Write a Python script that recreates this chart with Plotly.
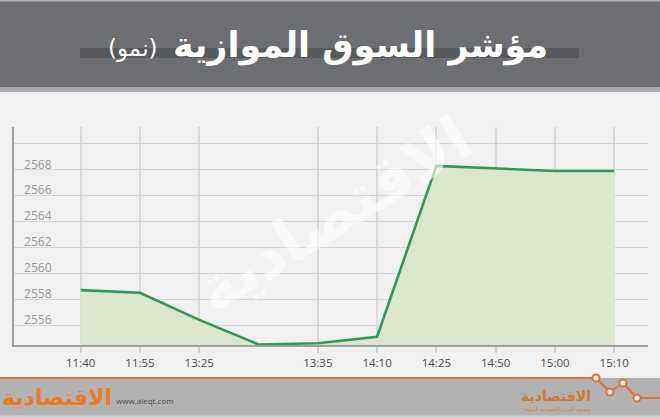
import plotly.graph_objects as go

# ---- data ----
times = ["11:40", "11:55", "13:25", "", "13:35", "14:10", "14:25", "14:50", "15:00", "15:10"]
values = [2558.7, 2558.5, 2556.4, 2554.5, 2554.6, 2555.1, 2568.3, 2568.1, 2567.9, 2567.9]
y_ticks = [2556, 2558, 2560, 2562, 2564, 2566, 2568, 2570]
y_tick_labels = ["2556", "2558", "2560", "2562", "2564", "2566", "2568", ""]
title_main = "مؤشر السوق الموازية"
title_sub = "(نمو)"
brand = "الاقتصادية"

W, H = 660, 418
L, R, T, B = 14, 12, 127, 73
PW, PH = W - L - R, H - T - B


def px(x):
    return (x - L) / PW


def py(y):
    return (H - B - y) / PH


xs = list(range(len(times)))
tick_idx = [i for i, t in enumerate(times) if t]

fig = go.Figure()
fig.add_trace(go.Scatter(
    x=xs, y=values, mode="lines",
    line=dict(color="#2f9a52", width=2.6),
    fill="tozeroy", fillcolor="#dbe6cc",
    hoverinfo="skip",
))

shapes = []
# title band
shapes.append(dict(type="rect", xref="paper", yref="paper", x0=px(0), x1=px(W), y0=py(0), y1=py(87),
                   fillcolor="#6d6e71", line=dict(width=0), layer="above"))
shapes.append(dict(type="rect", xref="paper", yref="paper", x0=px(0), x1=px(W), y0=py(87), y1=py(92),
                   fillcolor="#abacae", line=dict(width=0), layer="above"))
shapes.append(dict(type="rect", xref="paper", yref="paper", x0=px(0), x1=px(W), y0=py(0), y1=py(1.5),
                   fillcolor="#b9b9bb", line=dict(width=0), layer="above"))
# dark bar behind title
shapes.append(dict(type="rect", xref="paper", yref="paper", x0=px(80), x1=px(579), y0=py(48), y1=py(58),
                   fillcolor="#58595c", line=dict(width=0), layer="above"))
# bottom band
shapes.append(dict(type="rect", xref="paper", yref="paper", x0=px(0), x1=px(W), y0=py(378), y1=py(418),
                   fillcolor="#b2b2b2", line=dict(width=0), layer="above"))
shapes.append(dict(type="rect", xref="paper", yref="paper", x0=px(0), x1=px(W), y0=py(415.5), y1=py(418),
                   fillcolor="#cfcfcf", line=dict(width=0), layer="above"))
# orange line with zigzag
pts = [(0, 378), (596, 378), (610, 392), (623, 383), (637, 398), (660, 398)]
path = "M " + " L ".join(f"{px(a):.5f},{py(b):.5f}" for a, b in pts)
shapes.append(dict(type="path", xref="paper", yref="paper", path=path,
                   line=dict(color="#dd7136", width=2), layer="above"))
for a, b in pts[1:5]:
    r = 3.6
    shapes.append(dict(type="circle", xref="paper", yref="paper",
                       x0=px(a - r), x1=px(a + r), y0=py(b - r), y1=py(b + r),
                       fillcolor="#eeeeee", line=dict(color="#dd7136", width=2), layer="above"))

annotations = [
    # watermark
    dict(xref="paper", yref="paper", x=px(333), y=py(214), text=brand, showarrow=False,
         textangle=-32, font=dict(family="DejaVu Sans", size=62, color="rgba(255,255,255,0.6)", weight="bold"),
         xanchor="center", yanchor="middle"),
    # titles
    dict(xref="paper", yref="paper", x=px(550), y=py(46), text=title_main, showarrow=False,
         xanchor="right", yanchor="middle",
         font=dict(family="DejaVu Sans", size=35, color="white", weight="bold")),
    dict(xref="paper", yref="paper", x=px(160), y=py(49), text=title_sub, showarrow=False,
         xanchor="right", yanchor="middle",
         font=dict(family="DejaVu Sans", size=23, color="white")),
    # bottom-left logo
    dict(xref="paper", yref="paper", x=px(114), y=py(397), text=brand, showarrow=False,
         xanchor="right", yanchor="middle",
         font=dict(family="DejaVu Sans", size=22, color="#f07a22", weight="bold")),
    dict(xref="paper", yref="paper", x=px(114), y=py(400), text="www.aleqt.com", showarrow=False,
         xanchor="left", yanchor="middle",
         font=dict(family="Open Sans", size=8, color="#4a4a4a")),
    # bottom-right logo
    dict(xref="paper", yref="paper", x=px(593), y=py(396), text=brand, showarrow=False,
         xanchor="right", yanchor="middle",
         font=dict(family="DejaVu Sans", size=14, color="#d8782f", weight="bold")),
    dict(xref="paper", yref="paper", x=px(593), y=py(409), text="صحيفة العرب الاقتصادية الدولية", showarrow=False,
         xanchor="right", yanchor="middle",
         font=dict(family="DejaVu Sans", size=5, color="#d8782f")),
]

fig.update_layout(
    width=W, height=H,
    margin=dict(l=L, r=R, t=T, b=B),
    paper_bgcolor="#f1f1f1", plot_bgcolor="#f1f1f1",
    showlegend=False,
    shapes=shapes, annotations=annotations,
    xaxis=dict(
        range=[-1.125, 9.57], tickmode="array",
        tickvals=[xs[i] for i in tick_idx], ticktext=[times[i] for i in tick_idx],
        showgrid=True, gridcolor="#d9d9d9", gridwidth=1.6,
        showline=True, linecolor="#a0a0a0", linewidth=1.5,
        ticks="outside", ticklen=6, tickcolor="#d2d2d2", tickwidth=1.6,
        tickfont=dict(family="Open Sans", size=11.5, color="#4d4d4d"),
        zeroline=False, fixedrange=True,
    ),
    yaxis=dict(
        range=[2554.46, 2571.3], tickmode="array",
        tickvals=y_ticks, ticktext=y_tick_labels,
        ticklabelposition="inside top", ticklabelstandoff=9, ticklabelshift=3,
        showgrid=True, gridcolor="#d6d6d6", gridwidth=1,
        showline=True, linecolor="#a0a0a0", linewidth=1.5,
        tickfont=dict(family="Open Sans", size=12, color="#9b9b9b"),
        zeroline=False, fixedrange=True,
    ),
)

fig.write_html("out.html", config={"displayModeBar": False},
               post_script="document.body.style.margin='0px';")
